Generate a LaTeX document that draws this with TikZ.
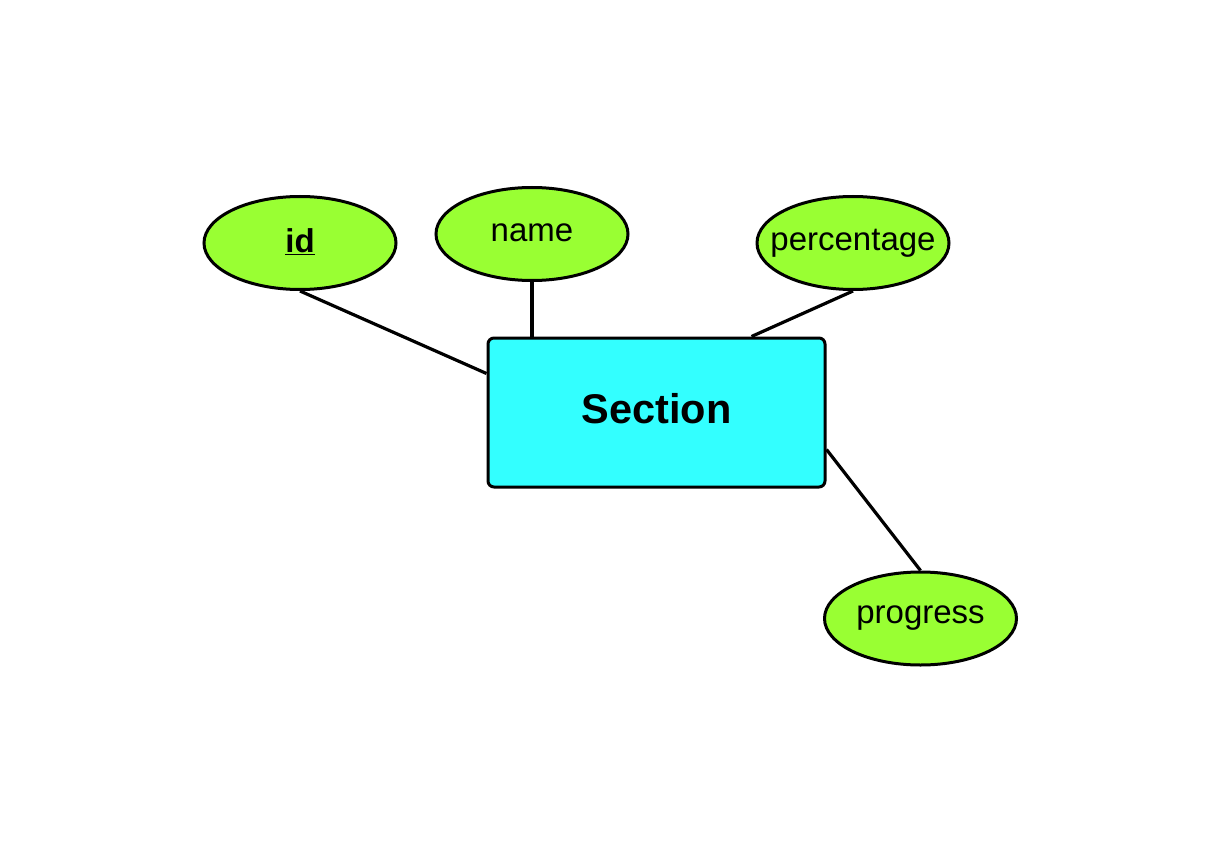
\documentclass[tikz,border=0pt]{standalone}
\usepackage{fontspec}
\setmainfont{Liberation Sans}
\usetikzlibrary{shapes.geometric}
\definecolor{attrgreen}{HTML}{99FF33}
\definecolor{entcyan}{HTML}{33FFFF}
\newcommand{\attrtext}[1]{\makebox[0pt]{\raisebox{3pt}{#1}}}
\begin{document}
\begin{tikzpicture}[x=1pt,y=-1pt,
  attr/.style={ellipse,draw=black,line width=3pt,fill=attrgreen,minimum width=192pt,minimum height=93pt,inner sep=0pt,font=\fontsize{33}{40}\selectfont},
  entity/.style={rectangle,rounded corners=6pt,draw=black,line width=3pt,fill=entcyan,minimum width=337pt,minimum height=149pt,font=\bfseries\fontsize{41.5}{50}\selectfont},
  conn/.style={line width=3.2pt,draw=black}]
\useasboundingbox (0,0) rectangle (1217,842);
\node[entity] (sec) at (656.5,412.5) {\raisebox{9pt}{Section}};
\node[attr] (id) at (300,243) {\makebox[0pt]{\raisebox{5pt}{\textbf{\underline{id}}}}};
\node[attr] (name) at (532,234) {\attrtext{name}};
\node[attr] (perc) at (853,243) {\attrtext{percentage}};
\node[attr] (prog) at (920.5,618.5) {\attrtext{progress}};
\draw[conn] (id.south) -- ([yshift=-37pt]sec.north west);
\draw[conn] (name.south) -- (name.south |- sec.north);
\draw[conn] (perc.south) -- ([xshift=-75pt]sec.north east);
\draw[conn] (prog.north) -- ([yshift=-113pt]sec.north east);
\end{tikzpicture}
\end{document}
